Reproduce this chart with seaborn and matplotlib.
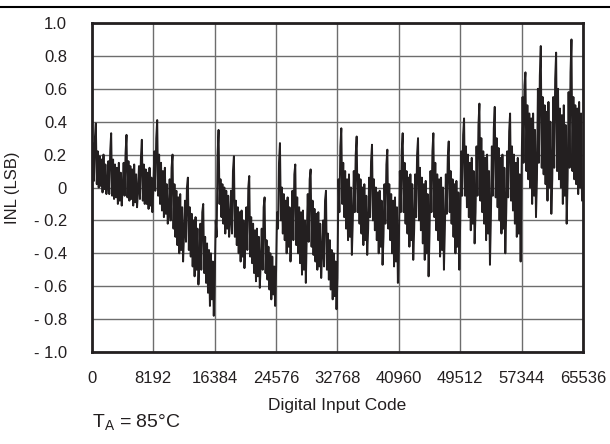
import numpy as np
import pandas as pd
import matplotlib
matplotlib.use("Agg")
import matplotlib.pyplot as plt
from matplotlib.lines import Line2D
import seaborn as sns

# INL readings, one row of 16 samples per 2048-code period (every 128 codes)
inl_rows = [
    [0.08, 0.27, 0.04, 0.30, 0.39, 0.02, 0.22, 0.00, 0.19, 0.01, 0.17, -0.03, 0.20, -0.01, 0.14, -0.04],
    [0.02, 0.16, -0.04, 0.22, 0.33, -0.05, 0.17, -0.07, 0.14, -0.06, 0.12, -0.10, 0.15, -0.08, 0.09, -0.11],
    [0.00, 0.15, -0.05, 0.21, 0.32, -0.06, 0.16, -0.08, 0.13, -0.07, 0.11, -0.11, 0.14, -0.09, 0.08, -0.12],
    [-0.02, 0.13, -0.07, 0.18, 0.29, -0.08, 0.14, -0.10, 0.11, -0.10, 0.09, -0.13, 0.12, -0.11, 0.06, -0.15],
    [0.00, 0.22, -0.02, 0.30, 0.41, -0.05, 0.20, -0.10, 0.15, -0.14, 0.10, -0.18, 0.12, -0.16, 0.02, -0.22],
    [-0.15, 0.05, -0.20, 0.12, 0.20, -0.25, 0.02, -0.30, -0.02, -0.35, -0.06, -0.40, -0.04, -0.38, -0.12, -0.45],
    [-0.28, -0.08, -0.33, 0.00, 0.06, -0.38, -0.12, -0.42, -0.16, -0.48, -0.20, -0.54, -0.18, -0.50, -0.25, -0.59],
    [-0.45, -0.22, -0.50, -0.15, -0.10, -0.52, -0.30, -0.58, -0.34, -0.64, -0.38, -0.72, -0.40, -0.68, -0.45, -0.78],
    [-0.55, -0.20, -0.30, 0.20, 0.35, -0.10, 0.05, -0.18, 0.02, -0.22, 0.00, -0.28, -0.02, -0.25, -0.05, -0.30],
    [-0.20, -0.02, -0.28, 0.10, 0.19, -0.30, -0.08, -0.35, -0.12, -0.40, -0.15, -0.45, -0.14, -0.42, -0.20, -0.49],
    [-0.32, -0.12, -0.38, 0.00, 0.07, -0.42, -0.18, -0.46, -0.22, -0.52, -0.26, -0.57, -0.25, -0.54, -0.30, -0.61],
    [-0.45, -0.25, -0.50, -0.12, -0.06, -0.52, -0.32, -0.56, -0.36, -0.62, -0.40, -0.68, -0.42, -0.65, -0.48, -0.72],
    [-0.50, -0.15, -0.25, 0.15, 0.27, -0.20, 0.00, -0.28, -0.04, -0.32, -0.08, -0.40, -0.06, -0.36, -0.12, -0.45],
    [-0.25, -0.02, -0.32, 0.08, 0.14, -0.35, -0.06, -0.40, -0.12, -0.46, -0.15, -0.53, -0.14, -0.50, -0.20, -0.58],
    [-0.28, -0.04, -0.33, 0.05, 0.11, -0.36, -0.08, -0.41, -0.13, -0.45, -0.16, -0.50, -0.15, -0.48, -0.22, -0.55],
    [-0.40, -0.20, -0.48, -0.08, -0.02, -0.50, -0.28, -0.56, -0.32, -0.62, -0.38, -0.68, -0.40, -0.66, -0.45, -0.74],
    [-0.55, 0.05, -0.15, 0.25, 0.36, -0.10, 0.15, -0.18, 0.10, -0.25, 0.05, -0.32, 0.08, -0.30, 0.00, -0.41],
    [-0.20, 0.10, -0.15, 0.20, 0.31, -0.15, 0.08, -0.22, 0.05, -0.28, 0.00, -0.35, 0.02, -0.32, -0.05, -0.41],
    [-0.25, 0.06, -0.18, 0.16, 0.26, -0.20, 0.05, -0.26, 0.00, -0.32, -0.03, -0.40, -0.02, -0.36, -0.08, -0.47],
    [-0.30, 0.02, -0.22, 0.14, 0.23, -0.25, 0.02, -0.32, -0.04, -0.40, -0.08, -0.48, -0.06, -0.45, -0.12, -0.58],
    [-0.35, 0.10, -0.15, 0.22, 0.33, -0.15, 0.15, -0.22, 0.10, -0.28, 0.06, -0.36, 0.08, -0.32, 0.02, -0.44],
    [-0.25, 0.08, -0.18, 0.20, 0.30, -0.20, 0.12, -0.26, 0.06, -0.34, 0.02, -0.44, 0.04, -0.40, -0.04, -0.54],
    [-0.28, 0.10, -0.15, 0.22, 0.33, -0.18, 0.15, -0.26, 0.08, -0.32, 0.05, -0.42, 0.06, -0.38, 0.00, -0.50],
    [-0.25, 0.08, -0.16, 0.18, 0.28, -0.15, 0.10, -0.22, 0.05, -0.30, 0.02, -0.40, 0.04, -0.36, -0.03, -0.50],
    [-0.20, 0.22, -0.05, 0.32, 0.42, -0.05, 0.25, -0.12, 0.20, -0.18, 0.15, -0.26, 0.18, -0.22, 0.10, -0.34],
    [-0.15, 0.25, -0.05, 0.38, 0.51, -0.08, 0.30, -0.15, 0.22, -0.22, 0.18, -0.32, 0.20, -0.28, 0.10, -0.47],
    [-0.18, 0.25, -0.05, 0.36, 0.49, -0.06, 0.30, -0.12, 0.24, -0.20, 0.18, -0.28, 0.20, -0.25, 0.12, -0.40],
    [-0.15, 0.22, -0.06, 0.34, 0.45, -0.08, 0.25, -0.14, 0.20, -0.22, 0.15, -0.30, 0.18, -0.28, 0.08, -0.45],
    [0.10, 0.55, 0.15, 0.62, 0.70, 0.10, 0.50, 0.05, 0.45, 0.00, 0.42, -0.10, 0.45, -0.05, 0.35, -0.18],
    [0.05, 0.60, 0.15, 0.68, 0.86, 0.12, 0.55, 0.08, 0.50, 0.02, 0.46, -0.08, 0.52, 0.00, 0.40, -0.16],
    [0.05, 0.55, 0.12, 0.66, 0.82, 0.10, 0.60, 0.05, 0.48, 0.00, 0.44, -0.10, 0.50, -0.05, 0.38, -0.22],
    [0.05, 0.58, 0.12, 0.70, 0.90, 0.10, 0.55, 0.05, 0.50, 0.02, 0.48, -0.04, 0.52, 0.00, 0.45, -0.08],
]
step = 128

xtick_pos = [0, 8192, 16384, 24576, 32768, 40960, 49152, 57344, 65536]
xtick_labels = ["0", "8192", "16384", "24576", "32768", "40960", "49512", "57344", "65536"]
ytick_pos = [1.0, 0.8, 0.6, 0.4, 0.2, 0.0, -0.2, -0.4, -0.6, -0.8, -1.0]
ytick_labels = ["1.0", "0.8", "0.6", "0.4", "0.2", "0", "- 0.2", "- 0.4", "- 0.6", "- 0.8", "- 1.0"]

inl = [v for row in inl_rows for v in row]
df = pd.DataFrame({"code": np.arange(len(inl)) * step, "inl": inl})

sns.set_style("white")
plt.rcParams["font.family"] = ["Liberation Sans", "DejaVu Sans"]
plt.rcParams["mathtext.fontset"] = "custom"
plt.rcParams["mathtext.rm"] = "Liberation Sans"
plt.rcParams["mathtext.it"] = "Liberation Sans"

fig = plt.figure(figsize=(6.10, 4.44), dpi=100)
ax = fig.add_axes([0.1508, 0.2072, 0.8049, 0.741])

sns.lineplot(data=df, x="code", y="inl", ax=ax, color="#231f20",
             linewidth=1.4, estimator=None, zorder=3)

ax.set_xlim(0, 65536)
ax.set_ylim(-1.0, 1.0)
ax.set_xticks(xtick_pos)
ax.set_xticklabels(xtick_labels)
ax.set_yticks(ytick_pos)
ax.set_yticklabels(ytick_labels)
ax.tick_params(axis="both", length=0, labelsize=12, colors="#231f20")
ax.tick_params(axis="y", pad=18)
ax.tick_params(axis="x", pad=14)
ax.grid(True, color="#6d6d6d", linewidth=1.0)
for s in ax.spines.values():
    s.set_visible(True)
    s.set_color("#231f20")
    s.set_linewidth(2.0)

ax.set_xlabel("Digital Input Code", fontsize=12.5, color="#231f20", labelpad=8)
ax.set_ylabel("INL (LSB)", fontsize=12, color="#231f20", labelpad=10)

fig.add_artist(Line2D([0, 1], [0.984, 0.984], color="black", linewidth=1.5,
                      transform=fig.transFigure))
fig.text(0.151, 0.027, r"T$_{\mathrm{A}}$ = 85°C", fontsize=14, color="#231f20",
         ha="left", va="bottom")

fig.savefig("out.png", dpi=100)
